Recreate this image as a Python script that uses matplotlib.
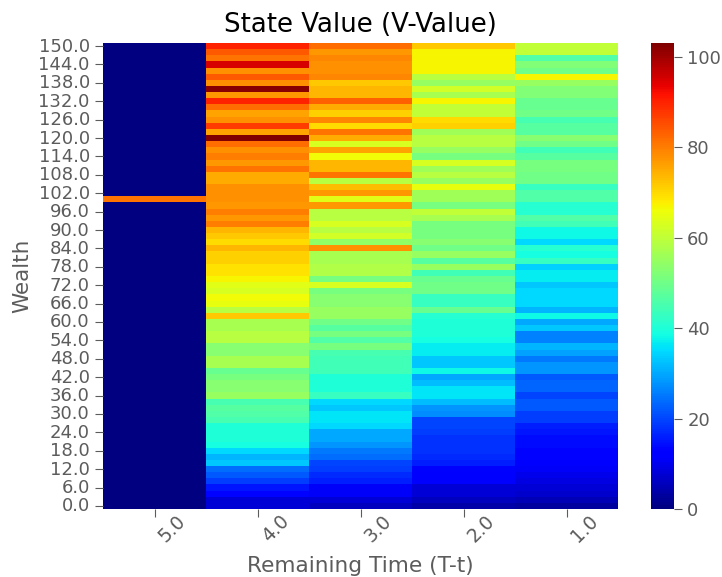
import numpy as np
import matplotlib
matplotlib.use("Agg")
import matplotlib.pyplot as plt
from matplotlib.transforms import ScaledTranslation

wealth = [150.0 - 2.0 * i for i in range(76)]
remaining = ["5.0", "4.0", "3.0", "2.0", "1.0"]

t5 = [0] * 76
t5[25] = 81

t4 = [90, 84, 81, 95, 78, 84, 78, 102, 77, 90, 82, 76, 78, 87, 76, 103, 82, 78, 80, 77,
      81, 75, 75, 78, 78, 78, 77, 80, 77, 80, 74, 72, 70, 74, 71, 71, 69, 69, 67, 64,
      63, 66, 65, 59, 72, 57, 57, 59, 59, 53, 53, 57, 57, 49, 51, 53, 53, 55, 45, 47,
      46, 45, 40, 40, 40, 39, 35, 31, 33, 24, 22, 19, 15, 13, 8, 8]
t3 = [82, 77, 79, 78, 78, 79, 72, 74, 74, 83, 75, 71, 79, 70, 81, 75, 63, 76, 66, 74,
      74, 81, 59, 73, 77, 64, 77, 59, 59, 63, 59, 62, 54, 78, 57, 57, 58, 58, 51, 63,
      51, 53, 53, 55, 55, 50, 47, 51, 46, 51, 45, 44, 44, 44, 40, 40, 40, 43, 35, 33,
      36, 36, 35, 30, 30, 28, 25, 24, 20, 19, 17, 16, 11, 11, 8, 6]
t2 = [72, 67, 67, 67, 67, 59, 55, 62, 57, 67, 60, 60, 70, 71, 56, 59, 59, 55, 51, 63,
      56, 59, 55, 65, 56, 56, 51, 60, 57, 51, 51, 51, 53, 50, 55, 47, 55, 44, 49, 50,
      50, 43, 43, 49, 41, 40, 40, 40, 39, 37, 37, 33, 33, 38, 30, 32, 36, 36, 32, 28,
      27, 20, 20, 19, 18, 18, 18, 17, 16, 12, 12, 12, 8, 8, 6, 4]
t1 = [60, 60, 46, 52, 50, 67, 55, 52, 52, 49, 49, 50, 45, 47, 47, 53, 50, 44, 47, 51,
      51, 50, 50, 43, 46, 46, 41, 41, 46, 44, 38, 38, 35, 41, 39, 43, 34, 37, 37, 33,
      35, 35, 35, 31, 38, 30, 33, 26, 26, 31, 29, 25, 28, 28, 22, 23, 23, 20, 22, 22,
      19, 19, 16, 15, 14, 14, 13, 13, 12, 11, 10, 9, 8, 7, 5, 3]

grid = np.array([t5, t4, t3, t2, t1], dtype=float).T
VMAX = 103.0
GRAY = "#5c5c5c"
W, H = 722, 577

fig = plt.figure(figsize=(W / 100, H / 100), dpi=100)
ax = fig.add_axes([103 / W, 1 - 509 / H, 515 / W, 466 / H])
cax = fig.add_axes([651 / W, 1 - 509 / H, 23 / W, 466 / H])

mesh = ax.pcolormesh(grid, cmap="jet", vmin=0, vmax=VMAX, shading="flat",
                     rasterized=True)
ax.set_xlim(0, 5)
ax.set_ylim(76, 0)

ax.set_xticks(np.arange(5) + 0.5)
ax.set_xticklabels(remaining, rotation=45, ha="center", va="center", color=GRAY,
                   fontsize=13.5)
ax.tick_params(axis="x", which="major", pad=8, length=6, color=GRAY)
shift = ScaledTranslation(18 / 100, 0, fig.dpi_scale_trans)
for lab in ax.get_xticklabels():
    lab.set_transform(lab.get_transform() + shift)

yt = np.arange(0, 76, 3)
ax.set_yticks(yt + 0.5)
ax.set_yticklabels([f"{wealth[i]:.1f}" for i in yt], color=GRAY, fontsize=13)
ax.tick_params(axis="y", length=6, color=GRAY, pad=3.5)
up = ScaledTranslation(0, 1.5 / 100, fig.dpi_scale_trans)
for lab in ax.get_yticklabels():
    lab.set_transform(lab.get_transform() + up)
for s in ax.spines.values():
    s.set_visible(False)

ax.set_xlabel("Remaining Time (T-t)", fontsize=15.6, color=GRAY)
ax.xaxis.set_label_coords(0.5, -(576.5 - 509) / 466)
ax.xaxis.label.set_va("bottom")
ax.set_ylabel("Wealth", fontsize=15.5, color=GRAY, labelpad=4.5)
ax.set_title("State Value (V-Value)", fontsize=18.7, color="black", pad=8)

cb = fig.colorbar(mesh, cax=cax)
cb.set_ticks([0, 20, 40, 60, 80, 100])
cb.ax.tick_params(labelsize=13, labelcolor=GRAY, color=GRAY, length=6)
cb.outline.set_visible(False)

fig.savefig("out.png", dpi=100)
